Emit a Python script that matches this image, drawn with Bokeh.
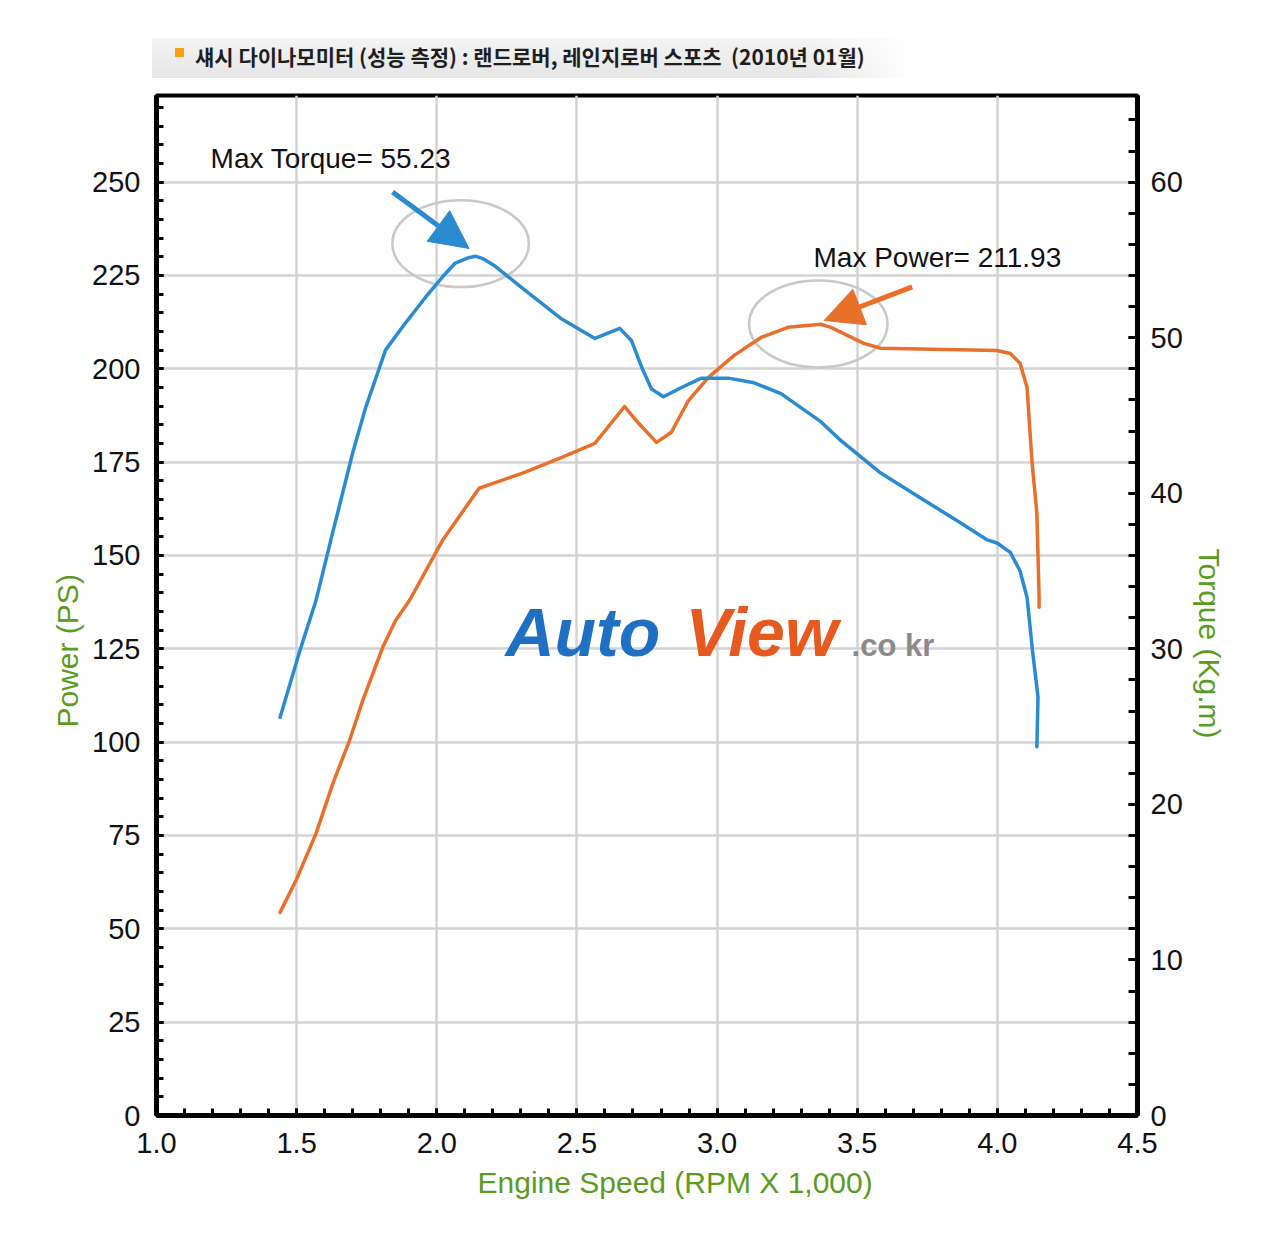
import math
from bokeh.plotting import figure
from bokeh.models import (Range1d, LinearAxis, FixedTicker, PrintfTickFormatter,
                          Label, Arrow, NormalHead, Title, Div)
from bokeh.layouts import column
from bokeh.embed import file_html
from bokeh.resources import INLINE

TITLE = "섀시 다이나모미터 (성능 측정) : 랜드로버, 레인지로버 스포츠  (2010년 01월)"
X_LABEL = "Engine Speed (RPM X 1,000)"
Y_LABEL = "Power (PS)"
Y2_LABEL = "Torque (Kg.m)"

rpm_ticks = [1.0, 1.5, 2.0, 2.5, 3.0, 3.5, 4.0, 4.5]
power_ticks = [0, 25, 50, 75, 100, 125, 150, 175, 200, 225, 250]
torque_ticks = [0, 10, 20, 30, 40, 50, 60]

# Torque curve (kg.m) vs rpm x 1000
rpm_torque = [1.441, 1.512, 1.569, 1.622, 1.700, 1.746, 1.796, 1.817, 1.878, 1.960,
              2.020, 2.066, 2.116, 2.140, 2.162, 2.208, 2.304, 2.446, 2.564, 2.653,
              2.695, 2.731, 2.766, 2.809, 2.873, 2.944, 3.040, 3.132, 3.228, 3.370,
              3.441, 3.584, 3.726, 3.868, 3.964, 3.999, 4.046, 4.081, 4.106, 4.124,
              4.145, 4.141]
torque = [25.6, 29.9, 33.1, 37.0, 42.6, 45.5, 48.1, 49.2, 50.7, 52.6,
          53.9, 54.8, 55.16, 55.23, 55.1, 54.6, 53.2, 51.2, 49.95, 50.6,
          49.8, 48.1, 46.7, 46.2, 46.8, 47.4, 47.4, 47.1, 46.4, 44.6,
          43.4, 41.3, 39.7, 38.1, 37.0, 36.8, 36.2, 35.0, 33.3, 30.1,
          26.9, 23.7]

# Power curve (PS) vs rpm x 1000
rpm_power = [1.441, 1.498, 1.569, 1.629, 1.689, 1.736, 1.807, 1.853, 1.903, 2.020,
             2.151, 2.304, 2.446, 2.564, 2.670, 2.720, 2.784, 2.837, 2.898, 2.969,
             3.061, 3.157, 3.253, 3.370, 3.406, 3.523, 3.584, 3.999, 4.046, 4.081,
             4.106, 4.124, 4.141, 4.149, 4.149]
power = [54.4, 63.0, 75.5, 88.9, 100.5, 111.2, 125.4, 132.6, 138.0, 154.0,
         168.0, 172.0, 176.3, 180.0, 189.9, 185.4, 180.3, 183.0, 191.5, 197.7,
         203.6, 208.4, 211.1, 211.93, 211.1, 206.8, 205.5, 204.9, 204.1, 201.5,
         195.0, 174.7, 161.3, 138.8, 136.1]

MAX_TORQUE = 55.23
MAX_POWER = 211.93
TORQUE_PER_PS = 0.24
POWER_TOP = 273.2

BLUE = "#2a8bd0"
ORANGE = "#e8702a"
GREEN = "#5b9b1f"
GRID = "#d3d3d3"
FONT = "Liberation Sans"
W = 1280

# ---------------- title strip (HTML) ----------------
title_html = (
    '<div style="position:relative; margin:38px 0 0 152px; width:763px; height:40px;'
    ' box-sizing:border-box; padding-left:43px; line-height:36px;'
    ' background:linear-gradient(to right, rgba(255,255,255,0) 86%, #ffffff 100%),'
    ' linear-gradient(to bottom, #f4f4f4, #e6e6e6);'
    " font-family:'Noto Sans CJK KR'; font-weight:bold; font-size:21px; color:#1e1e1e;"
    ' white-space:pre;">'
    '<span style="position:absolute; left:23px; top:10px; width:9px; height:9px;'
    ' background:#f6a10d;"></span>' + TITLE + '</div>'
)
head = Div(text=title_html, width=W, height=80, margin=0)

# ---------------- main chart ----------------
H = 1169
p = figure(width=W, height=H, x_range=Range1d(rpm_ticks[0], rpm_ticks[-1]),
           y_range=Range1d(0, POWER_TOP), output_backend="svg", toolbar_location=None,
           min_border_left=156, min_border_right=143, min_border_top=15,
           min_border_bottom=134)
p.extra_y_ranges = {"torque": Range1d(0, POWER_TOP * TORQUE_PER_PS)}
p.add_layout(LinearAxis(y_range_name="torque"), "right")

p.outline_line_color = "black"
p.outline_line_width = 4


def style_axis(ax, standoff):
    ax.axis_line_width = 5
    ax.axis_line_color = "black"
    ax.major_tick_in = 7
    ax.major_tick_out = 0
    ax.minor_tick_in = 7
    ax.minor_tick_out = 0
    ax.major_tick_line_width = 3
    ax.minor_tick_line_width = 3
    ax.major_tick_line_color = "black"
    ax.minor_tick_line_color = "black"
    ax.major_label_text_font = FONT
    ax.major_label_text_font_size = "29px"
    ax.major_label_text_color = "#111111"
    ax.major_label_standoff = standoff


xax = p.below[0]
yax = p.left[0]
y2ax = p.right[0]
style_axis(xax, 17)
style_axis(yax, 16)
style_axis(y2ax, 13)
y2ax.major_tick_in = 9
y2ax.minor_tick_in = 9

xax.ticker = FixedTicker(ticks=rpm_ticks,
                         minor_ticks=[round(rpm_ticks[0] + 0.1 * i, 2) for i in range(36)])
xax.formatter = PrintfTickFormatter(format="%.1f")
yax.ticker = FixedTicker(ticks=power_ticks, minor_ticks=list(range(0, 275, 5)))
y2ax.ticker = FixedTicker(ticks=torque_ticks, minor_ticks=list(range(0, 66, 2)))

p.xgrid.ticker = FixedTicker(ticks=rpm_ticks[1:-1])
p.ygrid.ticker = FixedTicker(ticks=power_ticks[1:])
p.grid.grid_line_color = GRID
p.grid.grid_line_width = 2.5

# axis titles as side titles (not clipped by the frame)
p.add_layout(Title(text=Y_LABEL, align="left", offset=388, vertical_align="bottom",
                   standoff=12, text_font=FONT, text_font_style="normal",
                   text_font_size="30px", text_color=GREEN), "left")
p.add_layout(Title(text=Y2_LABEL, align="left", offset=453, vertical_align="bottom",
                   standoff=14, text_font=FONT, text_font_style="normal",
                   text_font_size="30px", text_color=GREEN), "right")
p.add_layout(Title(text=X_LABEL, align="left", offset=321, vertical_align="top",
                   standoff=20, text_font=FONT, text_font_style="normal",
                   text_font_size="30px", text_color=GREEN), "below")

# highlight ellipses (in power units)
t_peak_x = rpm_torque[torque.index(max(torque))]
t_peak_ps = max(torque) / TORQUE_PER_PS
p_peak_x = rpm_power[power.index(max(power))]
p_peak_y = max(power)
p.ellipse(x=[t_peak_x - 0.055, p_peak_x - 0.009], y=[t_peak_ps + 3.4, p_peak_y + 0.1],
          width=[0.487, 0.494], height=[23.3, 23.3],
          fill_color=None, line_color="#c9c9c9", line_width=2.5)

# curves
p.line(rpm_power, power, line_color=ORANGE, line_width=3.5,
       line_join="round", line_cap="round")
p.line(rpm_torque, torque, y_range_name="torque", line_color=BLUE, line_width=3.5,
       line_join="round", line_cap="round")

# arrows
p.add_layout(Arrow(end=NormalHead(size=38, fill_color=BLUE, line_color=BLUE, line_width=1),
                   x_start=t_peak_x - 0.298, y_start=t_peak_ps + 17.2,
                   x_end=t_peak_x - 0.025, y_end=t_peak_ps + 2.1,
                   line_color=BLUE, line_width=5))
p.add_layout(Arrow(end=NormalHead(size=38, fill_color=ORANGE, line_color=ORANGE, line_width=1),
                   x_start=p_peak_x + 0.326, y_start=p_peak_y + 10.0,
                   x_end=p_peak_x + 0.012, y_end=p_peak_y + 1.0,
                   line_color=ORANGE, line_width=5))

# annotation texts
p.add_layout(Label(x=1.193, y=256.4, text="Max Torque= %.2f" % MAX_TORQUE,
                   text_font=FONT, text_font_size="28px", text_baseline="middle",
                   text_color="#111111"))
p.add_layout(Label(x=3.344, y=229.8, text="Max Power= %.2f" % MAX_POWER,
                   text_font=FONT, text_font_size="28px", text_baseline="middle",
                   text_color="#111111"))

# watermark logo
p.add_layout(Label(x=2.245, y=129.4, text="Auto",
                   text_font=FONT, text_font_style="bold italic", text_font_size="68px",
                   text_baseline="alphabetic", text_color="#1f6fc2"))
p.add_layout(Label(x=2.887, y=129.4, text="View",
                   text_font=FONT, text_font_style="bold italic", text_font_size="68px",
                   text_baseline="alphabetic", text_color="#e6591f"))
p.add_layout(Label(x=3.480, y=125.8, text=".co kr",
                   text_font=FONT, text_font_style="bold", text_font_size="31px",
                   text_baseline="alphabetic", text_color="#8a8a8a"))

layout = column(head, p)
open("out.html", "w", encoding="utf-8").write(file_html(layout, INLINE))
